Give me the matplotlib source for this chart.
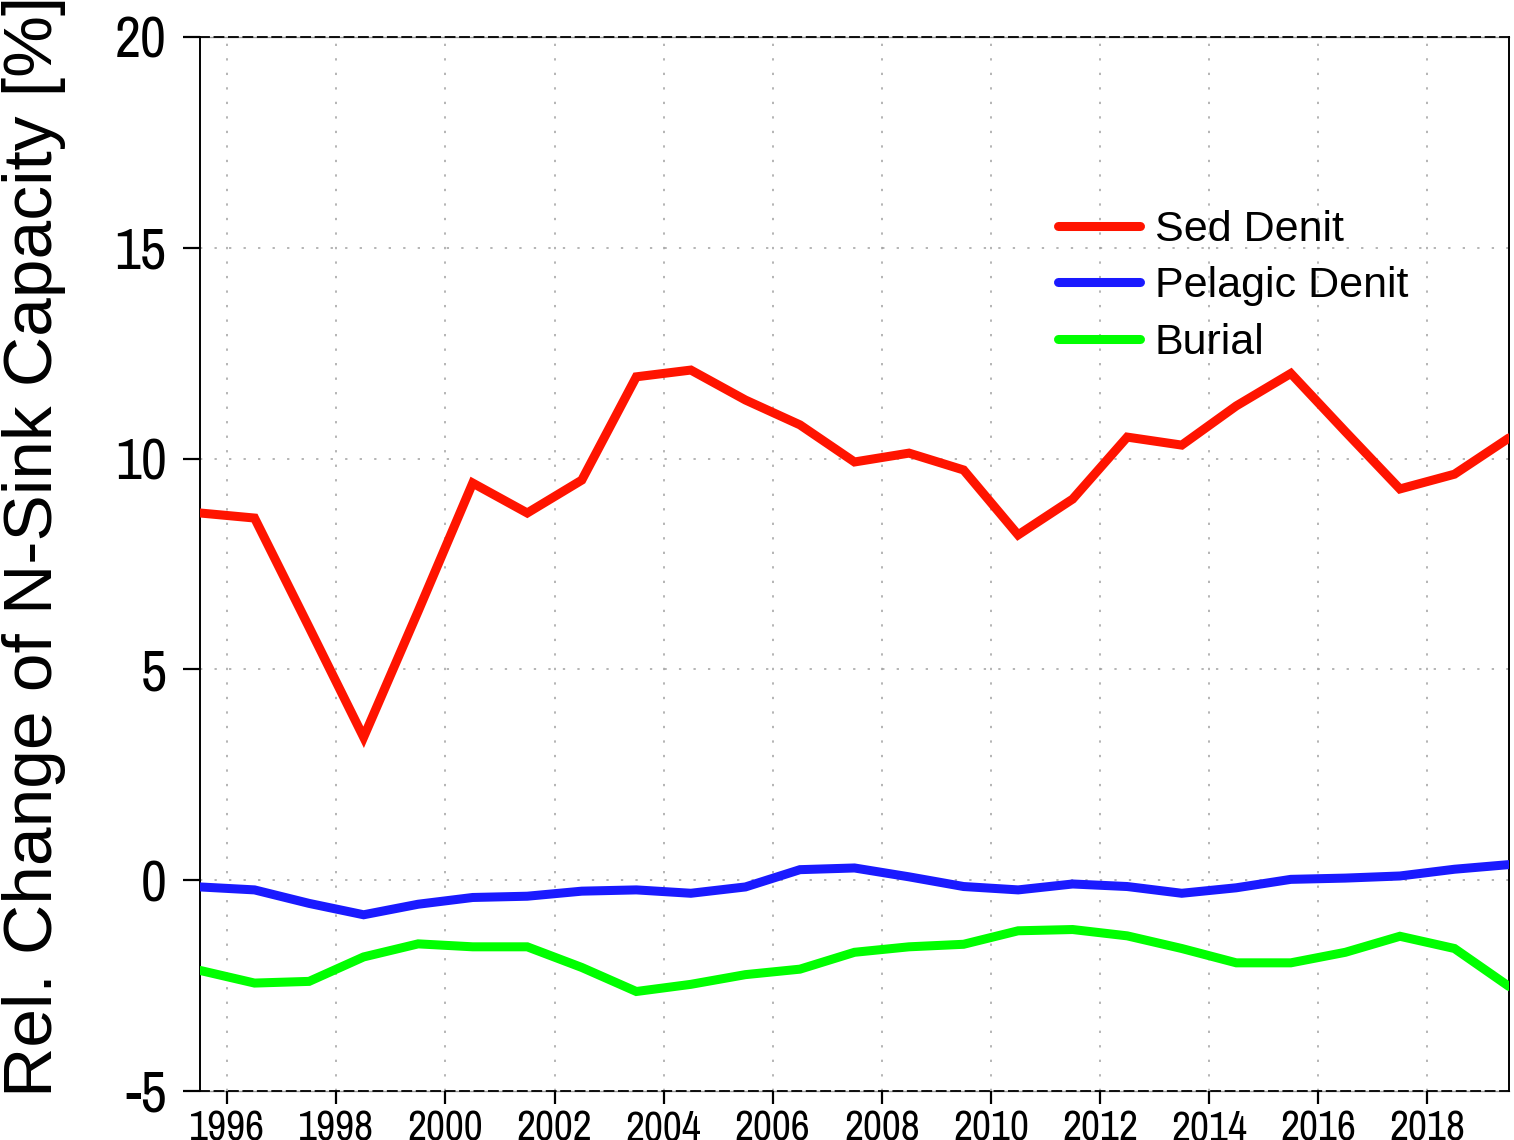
import matplotlib
matplotlib.use("Agg")
import matplotlib.pyplot as plt
import numpy as np

years = [1995.5 + i for i in range(25)]
sed_denit = [8.71, 8.59, 6.0, 3.39, 6.38, 9.42, 8.71, 9.49, 11.94, 12.10, 11.39, 10.80, 9.92,
             10.13, 9.73, 8.19, 9.04, 10.51, 10.32, 11.25, 12.02, 10.64, 9.28, 9.63, 10.49]
pelagic_denit = [-0.16, -0.23, -0.55, -0.82, -0.57, -0.41, -0.38, -0.26, -0.23, -0.31, -0.16,
                 0.25, 0.29, 0.08, -0.15, -0.23, -0.09, -0.15, -0.31, -0.18, 0.02, 0.05,
                 0.10, 0.26, 0.37]
burial = [-2.14, -2.44, -2.40, -1.82, -1.51, -1.58, -1.58, -2.07, -2.64, -2.47, -2.24, -2.11,
          -1.71, -1.58, -1.52, -1.20, -1.17, -1.32, -1.62, -1.96, -1.96, -1.71, -1.33, -1.62,
          -2.52]
series_names = ["Sed Denit", "Pelagic Denit", "Burial"]
series_colors = ["#ff1400", "#1a1aff", "#00ff00"]
xticks = [1996, 1998, 2000, 2002, 2004, 2006, 2008, 2010, 2012, 2014, 2016, 2018]
yticks = [-5, 0, 5, 10, 15, 20]
ylabel = "Rel. Change of N-Sink Capacity [%]"

narrow = ["Archivo Narrow", "PT Sans Narrow", "Roboto Condensed", "DejaVu Sans"]
regular = ["Liberation Sans", "DejaVu Sans"]
plt.rcParams["font.family"] = regular

fig = plt.figure(figsize=(15.14, 11.40), dpi=100)
ax = fig.add_axes([200 / 1514, 1 - 1091 / 1140, 1309 / 1514, 1054 / 1140])

for vals, name, col in zip([sed_denit, pelagic_denit, burial], series_names, series_colors):
    ax.plot(years, vals, color=col, lw=6.5, label=name, solid_capstyle="round",
            solid_joinstyle="miter", zorder=3)

ax.set_xlim(1995.5, 2019.5)
ax.set_ylim(-5, 20)
ax.set_xticks(xticks)
ax.set_yticks(yticks)
ax.set_xticklabels([str(t) for t in xticks], family=narrow, fontsize=30)
ax.set_yticklabels([str(t) for t in yticks], family=narrow, fontsize=41)
ax.tick_params(axis="y", direction="out", length=12, width=1.6, pad=12)
ax.tick_params(axis="x", direction="out", length=9, width=1.6, pad=4)

ax.grid(True, color="#a0a0a0", linestyle=(0, (1.5, 8)), lw=1.1, zorder=0)

for s in ["left", "right"]:
    ax.spines[s].set_color("black")
    ax.spines[s].set_linewidth(1.4)
for s in ["top", "bottom"]:
    ax.spines[s].set_color("black")
    ax.spines[s].set_linewidth(1.3)
    ax.spines[s].set_linestyle((0, (5, 3)))
for yv in (-5, 20):
    ax.axhline(yv, color="#999999", lw=1.0, zorder=0.5, clip_on=False)

ax.set_ylabel(ylabel, fontsize=50)
ax.yaxis.set_label_coords(-0.1024, 0.517)

leg = ax.legend(loc="upper left", bbox_to_anchor=(0.6555, 0.836), frameon=False,
                fontsize=31, handlelength=1.9, handletextpad=0.35, labelspacing=0.38,
                borderpad=0, borderaxespad=0)
for h in leg.legend_handles:
    h.set_linewidth(6.5)

fig.savefig("out.png", dpi=100)
